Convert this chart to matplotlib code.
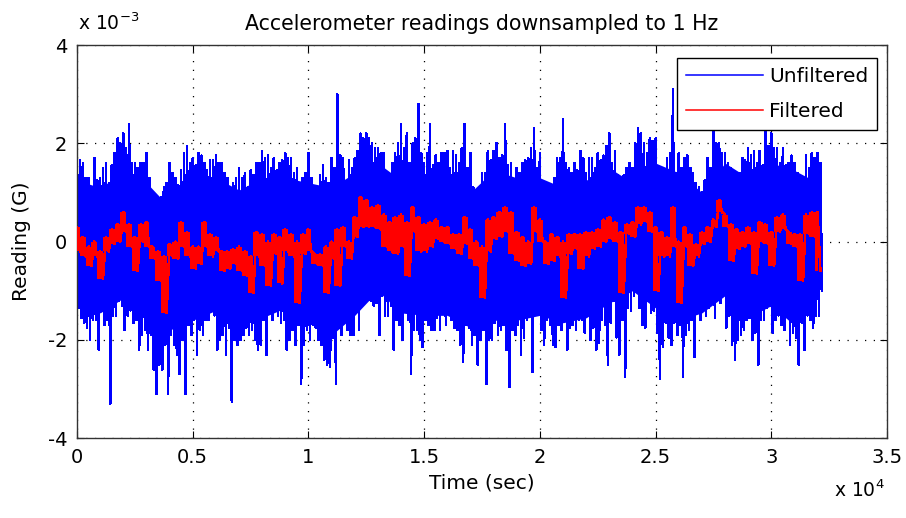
import numpy as np
import matplotlib
matplotlib.use("Agg")
import matplotlib.pyplot as plt
from matplotlib.ticker import FuncFormatter, MultipleLocator

# sample times (sec), readings taken every 250 s
t = np.arange(0, 32001, 250)
# coarser times for the solid middle of the unfiltered trace
t_core = np.arange(0, 32001, 1000)

# unfiltered signal, units of 1e-3 G
# main spike tops (at t) and bottoms (at t + 3/4 step)
unf_upper = [1.45, 1.6, 1.3, 1.7, 1.3, 1.6, 1.55, 2.1, 2.2, 2.4, 1.6, 1.6, 1.8, 1.0, 0.9, 1.1, 1.6, 1.3, 1.45, 1.95, 1.7, 1.8, 1.6, 1.65, 1.75,
             1.6, 1.3, 1.2, 1.5, 1.4, 1.45, 1.6, 1.85, 1.75, 1.7, 1.6, 1.8, 1.7, 1.5, 1.3, 1.8, 1.1, 1.35, 1.3, 1.7, 3.0, 1.7, 1.65, 1.7, 2.2, 2.2,
             2.0, 1.9, 1.8, 1.0, 1.8, 2.4, 2.2, 2.0, 2.8, 1.6, 2.4, 1.75, 1.8, 1.85, 1.85, 1.6, 2.4, 1.8, 1.0, 1.4, 1.85, 1.85, 1.7, 2.4, 1.6, 1.5,
             1.6, 1.7, 2.3, 1.8, 1.2, 0.8, 1.7, 2.5, 1.5, 1.6, 1.85, 1.4, 1.7, 1.8, 1.75, 2.2, 1.85, 1.3, 1.5, 1.5, 2.3, 2.0, 2.1, 2.1, 1.4,
             1.7, 3.1, 1.8, 1.7, 1.5, 1.2, 1.0, 1.7, 2.4, 2.0, 1.8, 1.5, 1.2, 1.7, 1.9, 1.85, 1.85, 2.3, 2.2, 1.9, 1.9, 1.6, 1.6, 1.2, 1.75, 1.8, 1.8]
unf_lower = [-1.55, -1.75, -1.6, -2.2, -1.7, -3.3, -1.5, -1.3, -1.5, -1.65, -2.2, -1.8, -1.9, -3.1, -2.6, -3.1, -2.1, -2.7, -3.1, -1.9, -2.3, -1.9, -1.6, -1.5, -2.0,
             -2.3, -3.25, -2.1, -1.9, -1.9, -2.0, -2.1, -2.3, -1.6, -1.5, -1.6, -2.0, -2.1, -2.9, -1.8, -1.7, -2.0, -2.4, -2.55, -2.9, -1.9, -1.8, -1.9, -1.8, -1.0, -1.2,
             -1.25, -1.1, -1.5, -2.2, -1.7, -1.2, -2.7, -1.8, -2.15, -1.7, -1.8, -1.8, -1.7, -1.6, -1.8, -2.45, -1.75, -1.9, -2.0, -2.9, -2.0, -1.9, -1.7, -2.95, -1.9, -2.3,
             -1.6, -2.65, -1.2, -2.1, -1.7, -2.15, -1.8, -2.2, -1.7, -1.6, -1.85, -2.0, -2.2, -1.6, -2.5, -1.2, -2.3, -2.75, -1.4, -0.8, -1.7, -1.2, -1.4, -2.8, -1.65,
             -2.1, -1.9, -2.75, -1.8, -2.35, -1.6, -1.5, -1.25, -0.9, -1.0, -1.5, -2.4, -1.9, -1.6, -2.0, -2.5, -1.6, -1.3, -1.6, -1.7, -1.2, -1.85, -2.5, -2.2, -1.6, -1.5, -1.0]
# in-between (smaller) spike tops at t + 1/2 step and bottoms at t + 1/4 step
unf_upper2 = [1.65, 1.3, 1.0, 1.25, 1.5, 1.2, 1.8, 2.0, 1.9, 1.6, 1.5, 1.6, 1.3, 0.95, 0.9, 1.2, 1.4, 1.15, 1.8, 1.6,
              1.55, 1.75, 1.45, 1.65, 1.6, 1.4, 1.0, 1.3, 1.3, 1.1, 1.35, 1.6, 1.7, 1.5, 1.45, 1.65, 1.7, 1.4, 1.15, 1.4,
              1.3, 1.05, 1.55, 1.2, 1.5, 1.75, 1.1, 1.5, 1.85, 2.1, 2.1, 1.9, 1.8, 1.2, 1.6, 2.0, 1.9, 1.6, 2.1, 1.8,
              1.8, 1.55, 1.6, 1.8, 1.5, 1.75, 1.9, 1.5, 1.1, 0.9, 1.4, 1.65, 2.0, 1.75, 1.55, 1.25, 1.4, 1.65, 1.9, 1.5,
              1.2, 0.9, 1.3, 1.7, 1.6, 1.4, 1.45, 1.7, 1.7, 1.5, 1.65, 1.95, 1.6, 1.35, 1.35, 1.6, 2.0, 2.2, 1.8, 2.05,
              1.5, 1.25, 1.8, 1.4, 1.5, 1.75, 1.4, 1.1, 1.25, 1.5, 2.0, 1.8, 1.6, 1.3, 1.4, 1.65, 1.75, 1.6, 1.55, 1.95,
              1.9, 1.6, 1.55, 1.75, 1.4, 1.1, 1.5, 1.7, 1.6]
unf_lower2 = [-1.35, -1.65, -2.0, -1.6, -1.4, -1.6, -1.5, -1.2, -1.8, -1.4, -1.6, -1.9, -2.2, -2.6, -2.5, -2.1, -1.9, -2.3, -2.0, -1.7,
              -1.6, -1.8, -1.6, -1.35, -2.2, -1.9, -1.75, -2.0, -2.0, -1.75, -1.8, -2.2, -1.6, -1.35, -1.4, -1.65, -2.2, -1.8, -1.7, -2.1,
              -2.0, -1.75, -2.1, -2.5, -1.95, -1.75, -1.55, -1.9, -1.2, -1.05, -1.1, -1.3, -1.9, -1.5, -1.3, -1.6, -2.0, -1.6, -1.8, -2.0,
              -1.6, -1.8, -1.55, -1.35, -1.4, -1.75, -2.1, -1.7, -2.1, -2.5, -1.8, -2.0, -1.65, -1.8, -2.2, -1.8, -1.7, -1.95, -1.5, -1.25,
              -1.8, -1.6, -2.1, -1.7, -1.5, -1.75, -1.8, -1.6, -1.5, -1.75, -2.05, -1.7, -1.65, -1.95, -1.6, -1.35, -1.1, -1.35, -1.75, -1.45,
              -1.85, -2.15, -1.95, -1.65, -1.7, -1.9, -1.6, -1.35, -1.1, -1.35, -1.55, -1.25, -1.75, -2.1, -2.0, -1.8, -1.55, -1.85, -1.6, -1.35,
              -1.85, -1.5, -1.8, -2.1, -1.95, -1.65, -1.5, -1.75, -1.5]
# edges of the solid middle of the blue trace, units of 1e-3 G
core_top = [1.25, 1.1, 1.4, 1.2, 0.7, 1.2, 1.3, 1.05, 1.3, 1.3, 1.2, 1.1, 1.4, 1.6, 1.25, 1.35, 1.35,
            1.0, 1.45, 1.3, 1.3, 1.1, 1.25, 1.5, 1.2, 1.6, 1.4, 1.0, 1.6, 1.3, 1.6, 1.45, 1.2]
core_bot = [-1.2, -1.45, -1.15, -1.6, -1.8, -1.6, -1.4, -1.65, -1.55, -1.35, -1.6, -1.9, -1.5, -1.0, -1.45, -1.5, -1.5,
            -1.75, -1.6, -1.6, -1.5, -1.65, -1.55, -1.25, -1.0, -1.35, -1.6, -1.45, -1.1, -1.55, -1.3, -1.7, -1.15]

# filtered signal: local highs / lows, units of 1e-3 G
filt_hi = [0.3, 0.1, -0.1, 0.0, -0.2, 0.1, 0.25, 0.35, 0.6, 0.35, 0.1, 0.35, 0.4, -0.1, -0.2, -0.3, -0.05, 0.0, 0.4, 0.2, -0.1, -0.1, 0.4, 0.15, 0.1,
           -0.2, -0.2, -0.15, -0.1, -0.2, -0.3, 0.2, 0.15, 0.0, 0.15, 0.1, 0.25, 0.15, 0.0, 0.15, 0.25, -0.25, -0.25, -0.1, 0.0, 0.25, 0.3, 0.0, 0.5, 0.9, 0.85,
           0.7, 0.75, 0.55, 0.4, 0.5, 0.55, 0.4, 0.7, 0.5, 0.35, 0.4, 0.45, 0.3, 0.3, 0.15, 0.15, 0.5, 0.25, 0.0, -0.1, 0.45, 0.5, 0.6, 0.7, 0.6, 0.2,
           0.1, 0.0, 0.7, 0.45, 0.0, 0.15, 0.1, 0.0, 0.15, 0.15, 0.15, 0.2, 0.2, 0.25, 0.45, 0.5, 0.4, 0.2, 0.35, 0.4, 0.7, 0.7, 0.6, 0.3, 0.2,
           0.1, 0.7, 0.0, 0.3, 0.15, -0.05, 0.2, 0.3, 0.45, 0.85, 0.55, 0.35, 0.25, 0.2, 0.3, 0.2, 0.4, 0.35, 0.2, 0.5, 0.55, 0.2, 0.15, 0.15, 0.55, 0.6, 0.6]
filt_lo = [-0.2, -0.3, -0.5, -0.3, -0.75, -0.2, -0.05, 0.0, 0.2, -0.1, -0.6, 0.0, -0.1, -0.35, -0.8, -1.45, -0.3, -0.35, -0.1, -0.3, -0.55, -0.45, -0.1, -0.3, -0.2,
           -0.6, -0.55, -0.45, -0.6, -0.7, -1.05, -0.3, -0.5, -0.9, -0.25, -0.85, -0.2, -0.3, -1.25, -0.25, -0.2, -0.45, -0.5, -1.05, -0.35, -0.9, -0.1, -0.35, 0.1, 0.3, 0.3,
           0.3, 0.25, -0.1, -0.2, -0.25, -0.1, -0.7, 0.2, -0.2, -0.2, -0.1, 0.05, 0.0, -0.05, -0.15, -0.25, -0.05, -0.35, -0.5, -1.15, -0.2, 0.05, 0.1, 0.2, -0.25, -0.4,
           -0.5, -0.45, 0.2, 0.0, -0.45, -0.4, -0.3, -1.15, -0.25, -0.15, -0.55, -0.3, -0.15, -0.1, 0.0, 0.05, 0.0, -1.05, 0.15, 0.1, 0.35, 0.4, 0.2, -1.0, -0.3,
           -0.3, -0.1, -1.25, -0.1, -0.5, -0.3, -0.05, 0.0, 0.3, 0.6, 0.3, -0.4, -0.15, -0.1, -0.05, -0.65, 0.0, -0.05, -0.5, 0.2, 0.25, -0.05, -0.1, -0.8, 0.15, 0.1, -0.6]

BLUE = '#0000ff'
RED = '#ff0000'

# interleave the readings into one trace, like the dense raw samples
xu = np.ravel(np.column_stack([t, t + 62.5, t + 125, t + 187.5]))
yu = np.ravel(np.column_stack([unf_upper, unf_lower2, unf_upper2, unf_lower])) * 1e-3
xf = np.ravel(np.column_stack([t, t + 125]))
yf = np.ravel(np.column_stack([filt_hi, filt_lo])) * 1e-3

fig = plt.figure(figsize=(9.06, 5.18), dpi=100)
ax = fig.add_axes([0.085, 0.154, 0.894, 0.759])

ax.fill_between(t_core, np.array(core_bot) * 1e-3, np.array(core_top) * 1e-3,
                color=BLUE, lw=0, zorder=2)
ax.plot(xu, yu, color=BLUE, lw=1.1, label='Unfiltered', zorder=2, antialiased=False)
ax.fill_between(t, np.array(filt_lo) * 1e-3, np.array(filt_hi) * 1e-3,
                color=RED, lw=0, step='mid', zorder=3)
ax.plot(xf, yf, color=RED, lw=1.1, label='Filtered', zorder=3, antialiased=False)

ax.set_xlim(0, 35000)
ax.set_ylim(-4e-3, 4e-3)
ax.xaxis.set_major_locator(MultipleLocator(5000))
ax.yaxis.set_major_locator(MultipleLocator(2e-3))
ax.xaxis.set_major_formatter(FuncFormatter(lambda v, p: '%g' % round(v / 1e4, 3)))
ax.yaxis.set_major_formatter(FuncFormatter(lambda v, p: '%g' % round(v * 1e3, 3)))
ax.tick_params(direction='in', top=True, right=True, length=5, labelsize=14,
               colors='black', pad=7)
ax.grid(True, color='black', linestyle=(0, (1, 6)), linewidth=0.9)
for s in ax.spines.values():
    s.set_linewidth(1.0)
    s.set_color('#333333')

ax.set_title('Accelerometer readings downsampled to 1 Hz', fontsize=14.8, pad=11)
ax.set_xlabel('Time (sec)', fontsize=14.5, labelpad=5)
ax.set_ylabel('Reading (G)', fontsize=14.5, labelpad=12)
fig.text(0.086, 0.935, r'x 10$^{\mathregular{-3}}$', fontsize=13.5, ha='left', va='bottom')
fig.text(0.921, 0.033, r'x 10$^{\mathregular{4}}$', fontsize=13.5, ha='left', va='bottom')

leg = ax.legend(loc='upper right', fontsize=14.5, handlelength=3.8, handletextpad=0.3,
                fancybox=False, framealpha=1, edgecolor='black', borderpad=0.45,
                labelspacing=0.8, borderaxespad=0, bbox_to_anchor=(0.988, 0.967))
leg.get_frame().set_linewidth(1.0)
leg.set_zorder(5)

fig.savefig('out.png', dpi=100)
